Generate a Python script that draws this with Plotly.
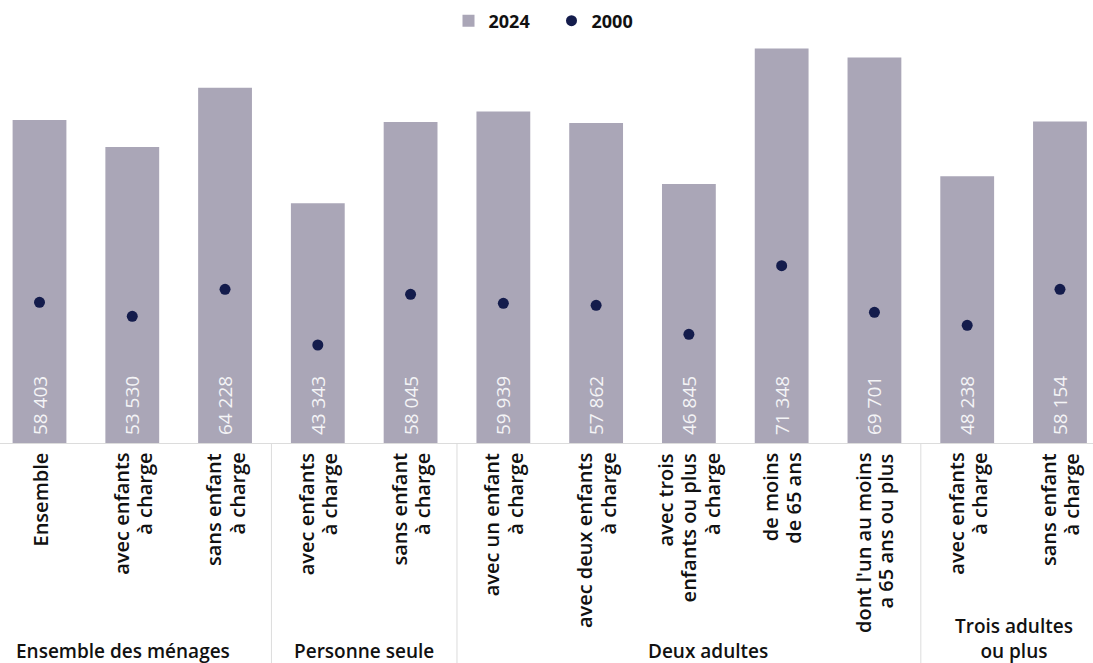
import plotly.graph_objects as go

groups = ["Ensemble des ménages", "Personne seule", "Deux adultes", "Trois adultes\nou plus"]
group_sizes = [3, 2, 5, 2]
labels = [
    "Ensemble",
    "avec enfants\nà charge",
    "sans enfant\nà charge",
    "avec enfants\nà charge",
    "sans enfant\nà charge",
    "avec un enfant\nà charge",
    "avec deux enfants\nà charge",
    "avec trois\nenfants ou plus\nà charge",
    "de moins\nde 65 ans",
    "dont l'un au moins\na 65 ans ou plus",
    "avec enfants\nà charge",
    "sans enfant\nà charge",
]
values_2024 = [58403, 53530, 64228, 43343, 58045, 59939, 57862, 46845, 71348, 69701, 48238, 58154]
values_2000 = [25440, 22910, 27790, 17720, 26890, 25260, 24900, 19660, 32060, 23630, 21280, 27790]

W, H = 1093, 663
M_T, M_B = 40, 220
PLOT_H = H - M_T - M_B
LINE_GAP = 23          # px between stacked label lines
TXT = "#111111"
x = list(range(len(labels)))


def fmt(v):
    return "\u00a0" + f"{v:,}".replace(",", " ")


def px_to_paper(px_from_plot_bottom):
    return -px_from_plot_bottom / PLOT_H


fig = go.Figure()
fig.add_trace(go.Bar(
    x=x, y=values_2024, name="2024",
    marker=dict(color="#aaa6b7", line=dict(width=0)),
    text=[fmt(v) for v in values_2024],
    textposition="inside", insidetextanchor="start", textangle=-90,
    textfont=dict(family="Open Sans", size=19, color="#f4f4f6"),
    hoverinfo="skip",
))
fig.add_trace(go.Scatter(
    x=x, y=values_2000, name="2000", mode="markers",
    marker=dict(color="#141c4c", size=11),
    hoverinfo="skip",
))

annotations = []
shapes = []

# category labels (rotated, lines right-aligned toward the axis)
for i, lab in enumerate(labels):
    lines = lab.split("\n")
    n = len(lines)
    for j, ln in enumerate(lines):
        annotations.append(dict(
            x=i, xref="x", y=0, yref="paper", text=ln, showarrow=False,
            textangle=-90, xanchor="center", yanchor="top",
            xshift=(j - (n - 1) / 2) * LINE_GAP, yshift=-8,
            font=dict(family="Open Sans", size=20, color=TXT, weight=600),
        ))

# group labels and separators
start = 0
xshifts = [-9, 0, 19, 0]
for gi, (g, n) in enumerate(zip(groups, group_sizes)):
    end = start + n - 1
    center = (start + end) / 2
    annotations.append(dict(
        x=center, xref="x", y=px_to_paper(M_B + 3), yref="paper",
        text=g.replace("\n", "<br>"), showarrow=False, xanchor="center", yanchor="bottom",
        align="center", xshift=xshifts[gi],
        font=dict(family="Open Sans", size=19, color=TXT, weight=600),
    ))
    if gi < len(groups) - 1:
        shapes.append(dict(
            type="line", xref="x", yref="paper",
            x0=end + 0.5, x1=end + 0.5, y0=0, y1=px_to_paper(M_B),
            line=dict(color="#dcdcdc", width=1),
        ))
    start = end + 1

fig.update_layout(
    width=W, height=H,
    margin=dict(l=0, r=0, t=M_T, b=M_B),
    plot_bgcolor="white", paper_bgcolor="white",
    bargap=0.42,
    showlegend=True,
    legend=dict(orientation="h", x=0.5 + 5 / W, xanchor="center", y=1 - 21 / H, yref="container",
                yanchor="middle", font=dict(family="Open Sans", size=18, color=TXT, weight=700),
                itemwidth=30, entrywidth=58, traceorder="normal"),
    shapes=shapes,
    annotations=annotations,
    xaxis=dict(
        tickmode="array", tickvals=x, showticklabels=False,
        range=[-0.4258, 11.356], showgrid=False, zeroline=False,
        showline=True, linecolor="#dcdcdc", linewidth=1, ticks="",
    ),
    yaxis=dict(range=[0, 72875], visible=False, showgrid=False, zeroline=False),
)

fig.write_html("out.html")
